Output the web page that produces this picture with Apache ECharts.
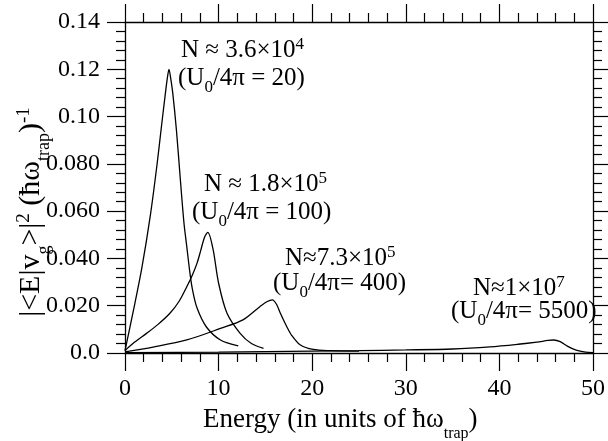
<!DOCTYPE html>
<html>
<head>
<meta charset="utf-8">
<script src="https://cdn.jsdelivr.net/npm/echarts@6/dist/echarts.min.js"></script>
<style>
body { margin: 0; padding: 0; background: #fff; }
#chart { width: 608px; height: 441px; }
</style>
</head>
<body>
<div id="chart"></div>
<script>
// curve U0/4pi = 20
const energy20 = [0, 0.9, 1.8, 2.7, 3.4, 3.9, 4.35, 4.55, 4.7, 4.85, 5.1, 5.5, 5.9, 6.3, 6.6, 6.9, 7.2, 7.7, 8.7, 10.2, 12.1];
const weight20 = [0.001, 0.018, 0.036, 0.058, 0.079, 0.096, 0.111, 0.117, 0.120, 0.117, 0.110, 0.094, 0.074, 0.055, 0.045, 0.035, 0.027, 0.019, 0.011, 0.0055, 0.003];
// curve U0/4pi = 100
const energy100 = [0, 1.0, 2.3, 3.5, 4.8, 5.8, 6.6, 7.2, 7.7, 8.1, 8.5, 8.85, 9.4, 10.0, 10.9, 12.3, 13.5, 14.8];
const weight100 = [0.001, 0.0045, 0.0083, 0.012, 0.0168, 0.022, 0.028, 0.033, 0.038, 0.0435, 0.049, 0.051, 0.044, 0.0295, 0.0168, 0.0083, 0.004, 0.002];
// curve U0/4pi = 400
const energy400 = [0, 3, 6.6, 10.2, 12.6, 14.4, 15.2, 15.75, 16.2, 16.6, 17.3, 17.8, 18.7, 20.1, 22, 25];
const weight400 = [0.0005, 0.0025, 0.0055, 0.0104, 0.014, 0.0196, 0.0218, 0.0225, 0.0205, 0.0168, 0.011, 0.0075, 0.0035, 0.0015, 0.001, 0.0008];
// curve U0/4pi = 5500
const energy5500 = [0, 10, 20, 25, 30, 35, 39, 42, 44, 45.2, 45.8, 46.5, 47.3, 48.2, 49.2, 50];
const weight5500 = [0.0001, 0.0004, 0.0008, 0.001, 0.0013, 0.0017, 0.0026, 0.0037, 0.0046, 0.0053, 0.0055, 0.0048, 0.0028, 0.0012, 0.0004, 0.0002];

const xTicks = [0, 10, 20, 30, 40, 50];
const yTickLabels = { "0": "0.0", "0.02": "0.020", "0.04": "0.040", "0.06": "0.060", "0.08": "0.080", "0.1": "0.10", "0.12": "0.12", "0.14": "0.14" };

const FONT = "Liberation Serif";
// main text, superscript (raised with bottom padding), subscript (lowered with top padding)
const annoRich = {
  t: { fontFamily: FONT, fontSize: 25, lineHeight: 25, color: "#000" },
  sup: { fontFamily: FONT, fontSize: 17, lineHeight: 18, color: "#000", padding: [0, 0, 10, 0] },
  sub: { fontFamily: FONT, fontSize: 17, lineHeight: 17, color: "#000", padding: [20, 0, 0, 0] }
};
const xTitleRich = {
  t: { fontFamily: FONT, fontSize: 27, lineHeight: 27, color: "#000" },
  sub: { fontFamily: FONT, fontSize: 16, lineHeight: 16, color: "#000", padding: [28, 0, 0, 0] }
};
const yTitleRich = {
  t: { fontFamily: FONT, fontSize: 30, lineHeight: 30, color: "#000" },
  sup: { fontFamily: FONT, fontSize: 19, lineHeight: 19, color: "#000", padding: [0, 0, 14, 0] },
  sub: { fontFamily: FONT, fontSize: 18, lineHeight: 18, color: "#000", padding: [26, 0, 0, 0] }
};

function pairs(xs, ys) {
  return xs.map((x, i) => [x, ys[i]]);
}

function curve(name, xs, ys) {
  return {
    name: name,
    type: "line",
    data: pairs(xs, ys),
    smooth: 0.3,
    showSymbol: false,
    lineStyle: { color: "#000", width: 1.3 },
    silent: true
  };
}

// one text line, left edge x, vertical centre y
function note(x, y, text) {
  return {
    type: "text",
    x: x,
    y: y,
    style: { text: text, rich: annoRich, align: "left", verticalAlign: "middle" }
  };
}

const axisLine = { show: true, onZero: false, lineStyle: { color: "#000", width: 1.3 } };
const axisTick = { show: true, inside: false, length: 18, lineStyle: { color: "#000", width: 1.2 } };
const minorTick = { show: true, splitNumber: 5, length: 9, lineStyle: { color: "#000", width: 1.2 } };

const chart = echarts.init(document.getElementById("chart"));
chart.setOption({
  animation: false,
  backgroundColor: "#fff",
  grid: { left: 125, right: 15, top: 22, bottom: 88 },
  xAxis: [
    {
      type: "value", min: 0, max: 50, interval: 10,
      axisLine: axisLine, axisTick: axisTick, minorTick: minorTick,
      splitLine: { show: false },
      axisLabel: { margin: 24, fontFamily: FONT, fontSize: 24, color: "#000",
        formatter: v => (xTicks.indexOf(v) >= 0 ? String(v) : "") }
    },
    {
      type: "value", position: "top", min: 0, max: 50, interval: 10,
      axisLine: axisLine, axisTick: axisTick, minorTick: minorTick,
      splitLine: { show: false }, axisLabel: { show: false }
    }
  ],
  yAxis: [
    {
      type: "value", min: 0, max: 0.14, interval: 0.02,
      axisLine: axisLine, axisTick: axisTick, minorTick: minorTick,
      splitLine: { show: false },
      axisLabel: { margin: 25, fontFamily: FONT, fontSize: 24, color: "#000",
        formatter: v => yTickLabels[String(+v.toFixed(2))] || "" }
    },
    {
      type: "value", position: "right", min: 0, max: 0.14, interval: 0.02,
      axisLine: axisLine, axisTick: axisTick, minorTick: minorTick,
      splitLine: { show: false }, axisLabel: { show: false }
    }
  ],
  series: [
    curve("20", energy20, weight20),
    curve("100", energy100, weight100),
    curve("400", energy400, weight400),
    curve("5500", energy5500, weight5500)
  ],
  graphic: [
    note(181, 50, "{t|N ≈ 3.6×10}{sup|4}"),
    note(178, 78, "{t|(U}{sub|0}{t|/4π = 20)}"),
    note(204, 184, "{t|N ≈ 1.8×10}{sup|5}"),
    note(192, 212, "{t|(U}{sub|0}{t|/4π = 100)}"),
    note(285, 258, "{t|N≈7.3×10}{sup|5}"),
    note(273, 283, "{t|(U}{sub|0}{t|/4π= 400)}"),
    note(473, 288, "{t|N≈1×10}{sup|7}"),
    note(451, 311, "{t|(U}{sub|0}{t|/4π= 5500)}"),
    {
      type: "text", x: 203, y: 420,
      style: { text: "{t|Energy (in units of ħω}{sub|trap}{t|)}", rich: xTitleRich, align: "left", verticalAlign: "middle" }
    },
    {
      type: "text", x: 31, y: 212, rotation: Math.PI / 2,
      style: { text: "{t||<E|v}{sub|g}{t|>|}{sup|2}{t| (ħω}{sub|trap}{t|)}{sup|-1}", rich: yTitleRich, align: "center", verticalAlign: "middle" }
    }
  ]
});
</script>
</body>
</html>
